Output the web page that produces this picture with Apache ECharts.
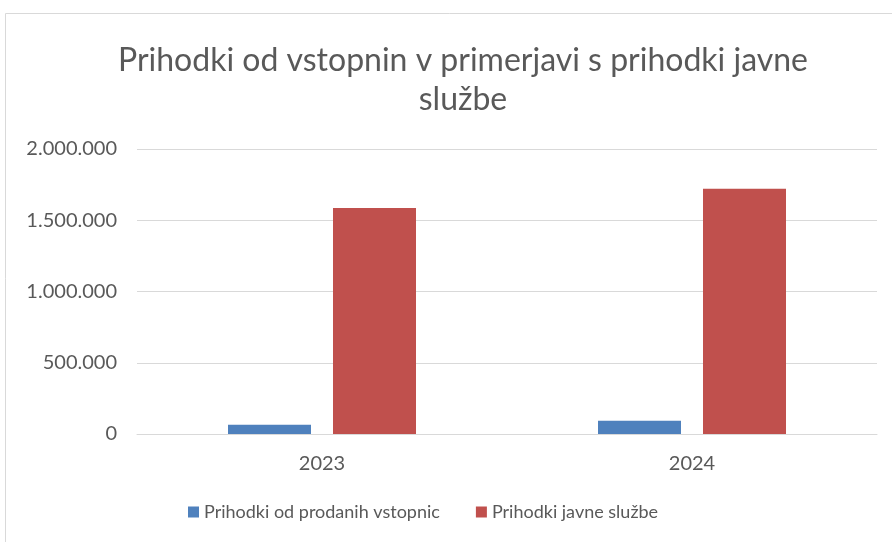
<!DOCTYPE html>
<html>
<head>
<meta charset="utf-8">
<script src="https://cdn.jsdelivr.net/npm/echarts@6/dist/echarts.min.js"></script>
<style>
  html, body { margin: 0; padding: 0; background: #fff; }
  #chart { width: 892px; height: 542px; }
</style>
</head>
<body>
<div id="chart"></div>
<script>
// podatki odčitani s slike
const years = ['2023', '2024']
const vstopnice = [65000, 93000]
const javnaSluzba = [1586000, 1721000]
const seriesNames = ['Prihodki od prodanih vstopnic', 'Prihodki javne službe']

const grey = '#595959'
const font = 'Lato'

// 2.000.000 namesto 2,000,000
function fmt (v) {
  return String(v).replace(/\B(?=(\d{3})+(?!\d))/g, '.')
}

let chart = echarts.init(document.getElementById('chart'))
chart.setOption({
  animation: false,
  textStyle: { fontFamily: font },
  title: {
    text: 'Prihodki od vstopnin v primerjavi s prihodki javne\nslužbe',
    left: 458,
    top: 36,
    textAlign: 'center',
    textStyle: { color: grey, fontSize: 32, fontWeight: 'normal', lineHeight: 39, fontFamily: font }
  },
  graphic: [{
    type: 'rect',
    shape: { x: 5.5, y: 13.5, width: 920, height: 560 },
    style: { fill: 'none', stroke: '#d9d9d9', lineWidth: 1 },
    silent: true
  }],
  legend: {
    data: seriesNames,
    bottom: 16,
    left: 183,
    itemWidth: 11,
    itemHeight: 11,
    itemGap: 36,
    icon: 'rect',
    textStyle: { color: grey, fontSize: 18, fontFamily: font }
  },
  grid: { left: 137, right: 15, top: 149, bottom: 108, containLabel: false },
  xAxis: {
    type: 'category',
    data: years,
    axisLine: { lineStyle: { color: '#d9d9d9', width: 1 } },
    axisTick: { show: false },
    axisLabel: { color: grey, fontSize: 20, margin: 20 }
  },
  yAxis: {
    type: 'value',
    min: 0,
    max: 2000000,
    interval: 500000,
    axisLine: { show: false },
    axisTick: { show: false },
    splitLine: { lineStyle: { color: '#d9d9d9', width: 1 } },
    axisLabel: { color: grey, fontSize: 20, margin: 20, formatter: fmt }
  },
  series: [
    {
      name: seriesNames[0],
      type: 'bar',
      data: vstopnice,
      barWidth: 83,
      barGap: '26.5%',
      itemStyle: { color: '#4f81bd' }
    },
    {
      name: seriesNames[1],
      type: 'bar',
      data: javnaSluzba,
      barWidth: 83,
      itemStyle: { color: '#c0504d' }
    }
  ]
})
</script>
</body>
</html>
